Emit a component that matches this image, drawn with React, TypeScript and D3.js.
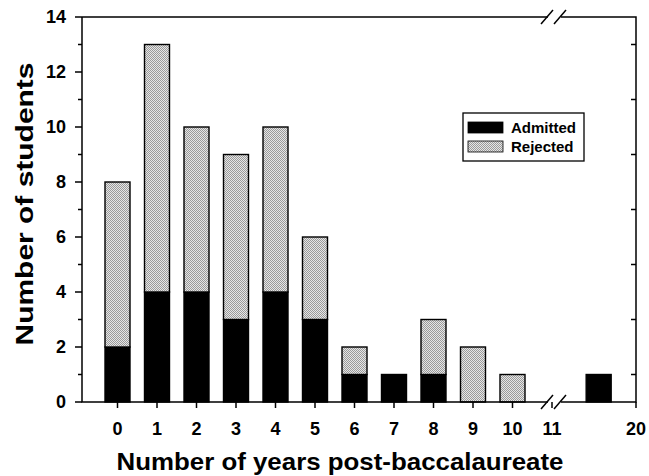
import React from 'react';
import * as d3 from 'd3';

// years post-baccalaureate and student counts per year
const years = [0, 1, 2, 3, 4, 5, 6, 7, 8, 9, 10, 16];
const admitted = [2, 4, 4, 3, 4, 3, 1, 1, 1, 0, 0, 1];
const rejected = [6, 9, 6, 6, 6, 3, 1, 0, 2, 2, 1, 0];
const xTicks = [0, 1, 2, 3, 4, 5, 6, 7, 8, 9, 10, 11, 20];
const yTicks = [0, 2, 4, 6, 8, 10, 12, 14];
const yMinor = [1, 3, 5, 7, 9, 11, 13];
const seriesNames = ['Admitted', 'Rejected'];

const W = 649, H = 476;
const left = 82, right = 636, top = 17, bottom = 402;
const font = '"Liberation Sans", Arial, Helvetica, sans-serif';

export default function App() {
  const x = d3.scaleLinear().domain([0, 11, 20]).range([117.5, 552, 636]);
  const y = d3.scaleLinear().domain([0, 14]).range([bottom, top]);
  const bw = 25;

  const rows = years.map((yr, i) => ({ year: yr, admitted: admitted[i], rejected: rejected[i] }));
  const series = d3.stack<any>().keys(['admitted', 'rejected'])(rows);
  const fills = ['#000', 'url(#dither)'];

  const breakX = 555;
  const slash = (cx: number, cy: number) => `M${cx - 6},${cy + 7}L${cx + 6},${cy - 7}`;

  return (
    <svg width={W} height={H} style={{ position: 'absolute', left: 0, top: 0, background: '#fff' }}>
      <defs>
        <pattern id="dither" width="2" height="2" patternUnits="userSpaceOnUse">
          <rect width="2" height="2" fill="#e6e6e6" />
          <rect width="1" height="1" fill="#9a9a9a" />
          <rect x="1" y="1" width="1" height="1" fill="#9a9a9a" />
        </pattern>
      </defs>

      {/* bars */}
      {series.map((s, si) => (
        <g key={s.key} fill={fills[si]} stroke="#000" strokeWidth={1.4}>
          {s.map((d: any, i: number) => {
            const h = y(d[0]) - y(d[1]);
            if (h <= 0) return null;
            return <rect key={i} x={x(d.data.year) - bw / 2} y={y(d[1])} width={bw} height={h} />;
          })}
        </g>
      ))}

      {/* frame with breaks */}
      <g stroke="#000" strokeWidth={1.5} fill="none">
        <path d={`M${left},${top}H${breakX - 7}M${breakX + 6},${top}H${right}V${bottom}H${breakX + 6}M${breakX - 7},${bottom}H${left}V${top}`} />
        <path d={slash(breakX - 8, top)} />
        <path d={slash(breakX + 5, top)} />
        <path d={slash(breakX - 8, bottom)} />
        <path d={slash(breakX + 5, bottom)} />
        {/* y ticks */}
        {yTicks.map(t => <line key={'ym' + t} x1={left - 7} x2={left} y1={y(t)} y2={y(t)} />)}
        {yMinor.map(t => <line key={'yn' + t} x1={left - 4} x2={left} y1={y(t)} y2={y(t)} />)}
        {yMinor.map(t => <line key={'yr' + t} x1={right - 5} x2={right} y1={y(t)} y2={y(t)} />)}
        {/* x ticks */}
        {xTicks.map(t => <line key={'x' + t} x1={x(t)} x2={x(t)} y1={bottom} y2={bottom + 6} />)}
      </g>

      {/* tick labels */}
      <g fontFamily={font} fontWeight="bold" fontSize={18} fill="#000">
        {yTicks.map(t => (
          <text key={t} x={left - 16} y={y(t)} dy="0.36em" textAnchor="end">{t}</text>
        ))}
        {xTicks.map(t => (
          <text key={t} x={x(t)} y={435} textAnchor="middle">{t}</text>
        ))}
      </g>

      {/* axis titles */}
      <text x={340} y={470} textAnchor="middle" fontFamily={font} fontWeight="bold" fontSize={24}
        textLength={447} lengthAdjust="spacingAndGlyphs">
        Number of years post-baccalaureate
      </text>
      <text transform={`translate(33,204) rotate(-90)`} textAnchor="middle"
        fontFamily={font} fontWeight="bold" fontSize={24} textLength={283} lengthAdjust="spacingAndGlyphs">
        Number of students
      </text>

      {/* legend */}
      <g fontFamily={font} fontWeight="bold" fontSize={15}>
        <rect x={463} y={113} width={121} height={48} fill="#fff" stroke="#000" strokeWidth={1.3} />
        {seriesNames.map((n, i) => (
          <g key={n}>
            <rect x={468} y={122 + i * 19} width={35} height={11} fill={fills[i]} stroke="#000" strokeWidth={0.8} />
            <text x={511} y={133 + i * 19}>{n}</text>
          </g>
        ))}
      </g>
    </svg>
  );
}
